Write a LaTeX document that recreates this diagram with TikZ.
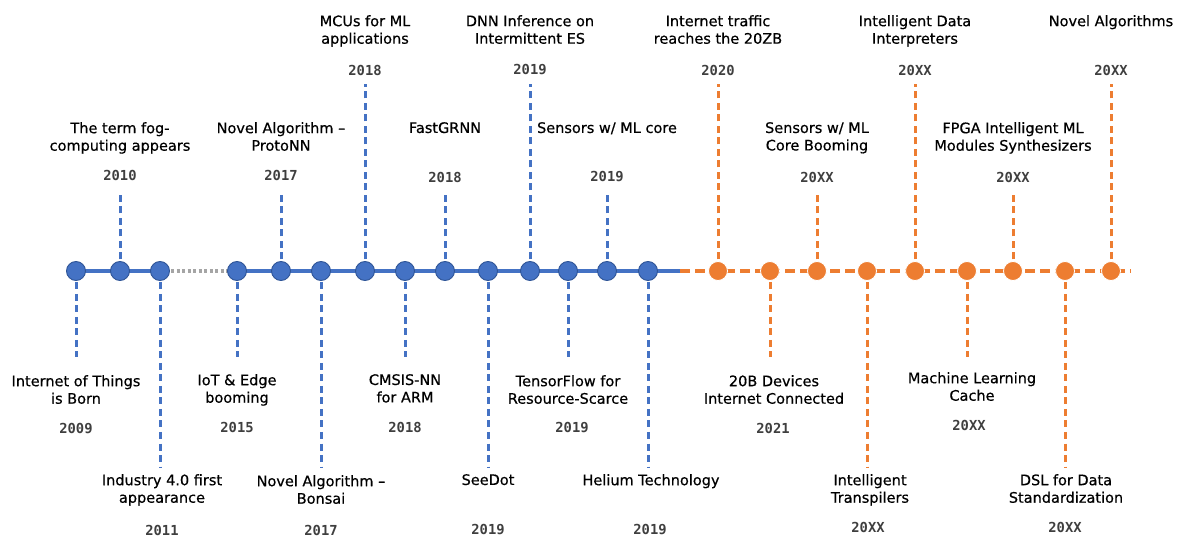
\documentclass[tikz,border=0pt]{standalone}
\usepackage{fontspec}
\setmainfont{DejaVu Sans}
\newfontfamily\ttlfont{DejaVu Sans}[FakeBold=0.5]
\newfontfamily\yearfont{DejaVu Sans Mono}
\usetikzlibrary{backgrounds}

\definecolor{tlblue}{HTML}{4472C4}
\definecolor{tlblueedge}{HTML}{2F5597}
\definecolor{tlorange}{HTML}{ED7D31}
\definecolor{tlgray}{HTML}{A5A5A5}
\definecolor{yeargray}{HTML}{3F3F3F}

\tikzset{
  bdot/.style={circle, fill=tlblue, draw=tlblueedge, line width=0.9pt, minimum size=19pt, inner sep=0pt},
  odot/.style={circle, fill=tlorange, draw=white, line width=0.8pt, minimum size=19pt, inner sep=0pt},
  ttl/.style={anchor=north, align=center, inner sep=0pt, font=\ttlfont\fontsize{14.5}{17.5}\selectfont, text=black},
  yr/.style={inner sep=0pt, font=\yearfont\bfseries\fontsize{13.8}{15}\selectfont, text=yeargray},
  bstem/.style={draw=tlblue, line width=3pt, dash pattern=on 7pt off 4.5pt},
  ostem/.style={draw=tlorange, line width=3pt, dash pattern=on 7pt off 4.5pt},
  bline/.style={draw=tlblue, line width=3.5pt},
  gline/.style={draw=tlgray, line width=3.5pt, dash pattern=on 3pt off 2.5pt},
  oline/.style={draw=tlorange, line width=3.5pt, dash pattern=on 10pt off 5pt},
}

\begin{document}
\begin{tikzpicture}[x=1pt,y=-1pt]
\useasboundingbox (0,0) rectangle (1179,537);

% ---- milestones on the axis ----
\node[bdot] (c1)  at (76,271)  {};
\node[bdot] (c2)  at (120,271) {};
\node[bdot] (c3)  at (160,271) {};
\node[bdot] (c4)  at (237,271) {};
\node[bdot] (c5)  at (281,271) {};
\node[bdot] (c6)  at (321,271) {};
\node[bdot] (c7)  at (365,271) {};
\node[bdot] (c8)  at (405,271) {};
\node[bdot] (c9)  at (445,271) {};
\node[bdot] (c10) at (488,271) {};
\node[bdot] (c11) at (530,271) {};
\node[bdot] (c12) at (568,271) {};
\node[bdot] (c13) at (607,271) {};
\node[bdot] (c14) at (648,271) {};
\node[odot] (c15) at (718,271) {};
\node[odot] (c16) at (770,271) {};
\node[odot] (c17) at (817,271) {};
\node[odot] (c18) at (867,271) {};
\node[odot] (c19) at (915,271) {};
\node[odot] (c20) at (967,271) {};
\node[odot] (c21) at (1013,271) {};
\node[odot] (c22) at (1065,271) {};
\node[odot] (c23) at (1111,271) {};

% ---- free ends of the axis and of the stems ----
\coordinate (axisswitch) at (680,271);
\coordinate (axisend) at (1131,271);
\coordinate (s1)  at (76,357);
\coordinate (s2)  at (120,191);
\coordinate (s3)  at (160,467);
\coordinate (s4)  at (237,357);
\coordinate (s5)  at (281,191);
\coordinate (s6)  at (321,467);
\coordinate (s7)  at (365,84);
\coordinate (s8)  at (405,357);
\coordinate (s9)  at (445,191);
\coordinate (s10) at (488,467);
\coordinate (s11) at (530,84);
\coordinate (s12) at (568,357);
\coordinate (s13) at (607,191);
\coordinate (s14) at (648,467);
\coordinate (s15) at (718,84);
\coordinate (s16) at (770,357);
\coordinate (s17) at (817,191);
\coordinate (s18) at (867,467);
\coordinate (s19) at (915,84);
\coordinate (s20) at (967,357);
\coordinate (s21) at (1013,191);
\coordinate (s22) at (1065,467);
\coordinate (s23) at (1111,84);

\begin{pgfonlayer}{background}
  % axis
  \draw[bline] (c1.center) -- (c2.center) -- (c3.center);
  \draw[gline] (c3.center) -- (c4.center);
  \draw[bline] (c4.center) -- (c5.center) -- (c6.center) -- (c7.center) -- (c8.center)
    -- (c9.center) -- (c10.center) -- (c11.center) -- (c12.center) -- (c13.center)
    -- (c14.center) -- (axisswitch);
  \draw[oline] (axisswitch) -- (c15.center) -- (c16.center) -- (c17.center) -- (c18.center)
    -- (c19.center) -- (c20.center) -- (c21.center) -- (c22.center) -- (c23.center) -- (axisend);
  % stems
  \foreach \i in {1,...,14} { \draw[bstem] (c\i.center) -- (s\i); }
  \foreach \i in {15,...,23} { \draw[ostem] (c\i.center) -- (s\i); }
\end{pgfonlayer}

% ---- labels above the axis ----
\node[ttl] (t2)  at (120,122) {The term fog-\\computing appears};
\node[yr]  (y2)  at (120,175) {2010};
\node[ttl] (t5)  at (281,122) {Novel Algorithm –\\ProtoNN};
\node[yr]  (y5)  at (281,175) {2017};
\node[ttl] (t7)  at (365,15)  {MCUs for ML\\applications};
\node[yr]  (y7)  at (365,70)  {2018};
\node[ttl] (t9)  at (445,122) {FastGRNN};
\node[yr]  (y9)  at (445,177) {2018};
\node[ttl] (t11) at (530,15)  {DNN Inference on\\Intermittent ES};
\node[yr]  (y11) at (530,70)  {2019};
\node[ttl] (t13) at (607,122) {Sensors w/ ML core};
\node[yr]  (y13) at (607,177) {2019};
\node[ttl] (t15) at (718,15)  {Internet traffic\\reaches the 20ZB};
\node[yr]  (y15) at (718,70)  {2020};
\node[ttl] (t17) at (817,122) {Sensors w/ ML\\Core Booming};
\node[yr]  (y17) at (817,177) {20XX};
\node[ttl] (t19) at (915,15)  {Intelligent Data\\Interpreters};
\node[yr]  (y19) at (915,70)  {20XX};
\node[ttl] (t21) at (1013,122) {FPGA Intelligent ML\\Modules Synthesizers};
\node[yr]  (y21) at (1013,177) {20XX};
\node[ttl] (t23) at (1111,15) {Novel Algorithms};
\node[yr]  (y23) at (1111,70) {20XX};

% ---- labels below the axis ----
\node[ttl] (t1)  at (76,375)  {Internet of Things\\is Born};
\node[yr]  (y1)  at (76,429)  {2009};
\node[ttl] (t3)  at (162,474) {Industry 4.0 first\\appearance};
\node[yr]  (y3)  at (162,530) {2011};
\node[ttl] (t4)  at (237,374) {IoT \& Edge\\booming};
\node[yr]  (y4)  at (237,427) {2015};
\node[ttl] (t6)  at (321,475) {Novel Algorithm –\\Bonsai};
\node[yr]  (y6)  at (321,530) {2017};
\node[ttl] (t8)  at (405,374) {CMSIS-NN\\for ARM};
\node[yr]  (y8)  at (405,427) {2018};
\node[ttl] (t10) at (488,474) {SeeDot};
\node[yr]  (y10) at (488,530) {2019};
\node[ttl] (t12) at (568,375) {TensorFlow for\\Resource-Scarce};
\node[yr]  (y12) at (572,428) {2019};
\node[ttl] (t14) at (651,474) {Helium Technology};
\node[yr]  (y14) at (650,530) {2019};
\node[ttl] (t16) at (774,375) {20B Devices\\Internet Connected};
\node[yr]  (y16) at (773,428) {2021};
\node[ttl] (t18) at (870,474) {Intelligent\\Transpilers};
\node[yr]  (y18) at (868,527) {20XX};
\node[ttl] (t20) at (972,372) {Machine Learning\\Cache};
\node[yr]  (y20) at (969,425) {20XX};
\node[ttl] (t22) at (1066,474) {DSL for Data\\Standardization};
\node[yr]  (y22) at (1065,527) {20XX};
\end{tikzpicture}
\end{document}
